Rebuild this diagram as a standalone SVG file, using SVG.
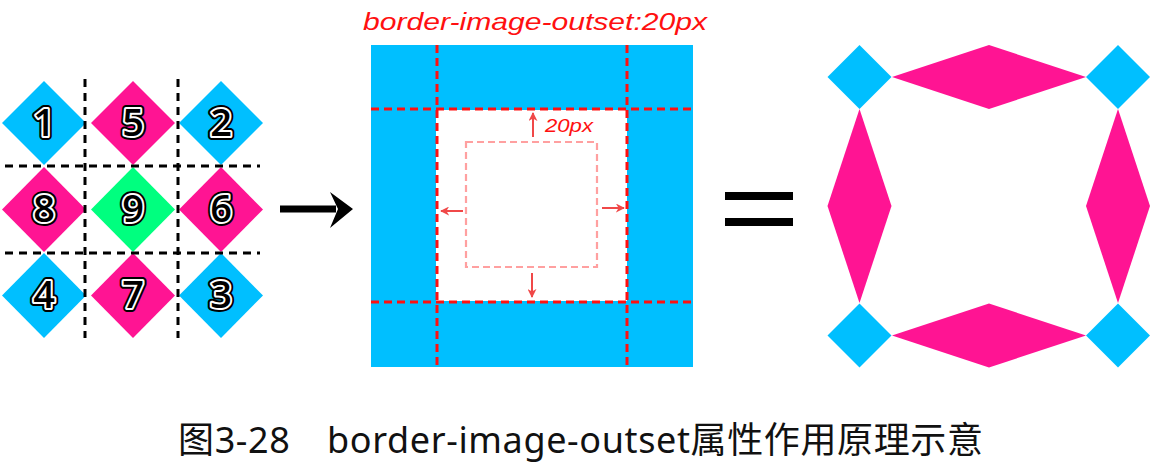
<svg xmlns="http://www.w3.org/2000/svg" width="1157" height="465" viewBox="0 0 1157 465">
<style>
.blue{fill:#00BFFF}
.pink{fill:#FF1493}
.green{fill:#00FF7F}
.gridline{stroke:#000;stroke-width:3;stroke-dasharray:8 6;fill:none}
.numo{font-family:"Open Sans","Noto Sans",sans-serif;font-size:38px;font-weight:600;text-anchor:middle;fill:#000;stroke:#000;stroke-width:8;stroke-linejoin:round}
.numi{font-family:"Open Sans","Noto Sans",sans-serif;font-size:38px;font-weight:600;text-anchor:middle;fill:#000;stroke:#fff;stroke-width:4;stroke-linejoin:round;paint-order:stroke}
.reddash{stroke:#FF1010;stroke-width:3;stroke-dasharray:8 5;fill:none}
.pinkdash{stroke:#FFA0A0;stroke-width:2.2;stroke-dasharray:7 4;fill:none}
.redtxt{font-family:"Liberation Sans","DejaVu Sans",sans-serif;font-style:italic;fill:#FF1010}
.sarrow{stroke:#F04848;stroke-width:2;fill:none;marker-end:url(#ah)}
.cap{font-family:"Noto Sans","Noto Sans CJK SC",sans-serif;font-size:36px;fill:#111}
</style>
<defs>
<marker id="ah" viewBox="0 0 10 10" refX="9" refY="5" markerWidth="9" markerHeight="9" markerUnits="userSpaceOnUse" orient="auto">
<path d="M0,0 L10,5 L0,10 L3,5 z" fill="#F04848"/>
</marker>
</defs>
<rect width="1157" height="465" fill="#fff"/>

<g id="sprite-grid">
<g id="d1"><polygon class="blue" points="44,81 86,123 44,165 2,123"/><text class="numo" x="44" y="136">1</text><text class="numi" x="44" y="136">1</text></g>
<g id="d5"><polygon class="pink" points="133,81 175,123 133,165 91,123"/><text class="numo" x="133" y="136">5</text><text class="numi" x="133" y="136">5</text></g>
<g id="d2"><polygon class="blue" points="221,81 263,123 221,165 179,123"/><text class="numo" x="221" y="136">2</text><text class="numi" x="221" y="136">2</text></g>
<g id="d8"><polygon class="pink" points="44,167 86,209.5 44,252 2,209.5"/><text class="numo" x="44" y="222">8</text><text class="numi" x="44" y="222">8</text></g>
<g id="d9"><polygon class="green" points="133,167 175,209.5 133,252 91,209.5"/><text class="numo" x="133" y="222">9</text><text class="numi" x="133" y="222">9</text></g>
<g id="d6"><polygon class="pink" points="221,167 263,209.5 221,252 179,209.5"/><text class="numo" x="221" y="222">6</text><text class="numi" x="221" y="222">6</text></g>
<g id="d4"><polygon class="blue" points="44,253 86,295.5 44,338 2,295.5"/><text class="numo" x="44" y="308">4</text><text class="numi" x="44" y="308">4</text></g>
<g id="d7"><polygon class="pink" points="133,253 175,295.5 133,338 91,295.5"/><text class="numo" x="133" y="308">7</text><text class="numi" x="133" y="308">7</text></g>
<g id="d3"><polygon class="blue" points="221,253 263,295.5 221,338 179,295.5"/><text class="numo" x="221" y="308">3</text><text class="numi" x="221" y="308">3</text></g>
<g id="grid-lines">
<line class="gridline" x1="85" y1="79" x2="85" y2="338"/>
<line class="gridline" x1="178" y1="79" x2="178" y2="338"/>
<line class="gridline" x1="5" y1="166" x2="260" y2="166"/>
<line class="gridline" x1="5" y1="253" x2="260" y2="253"/>
</g>
</g>

<g id="connectors">
<line x1="280" y1="209" x2="336" y2="209" stroke="#000" stroke-width="7"/>
<polygon points="330,192 353,209 330,228 338,209" fill="#000"/>
</g>

<g id="outset-box">
<text class="redtxt" x="363" y="30" font-size="24" textLength="344" lengthAdjust="spacingAndGlyphs">border-image-outset:20px</text>
<rect x="371" y="45" width="322" height="322" class="blue"/>
<rect x="436" y="110" width="191" height="191" fill="#fff"/>
<line class="reddash" x1="437" y1="45" x2="437" y2="367"/>
<line class="reddash" x1="627" y1="45" x2="627" y2="367"/>
<line class="reddash" x1="371" y1="109" x2="693" y2="109"/>
<line class="reddash" x1="371" y1="302" x2="693" y2="302"/>
<rect class="pinkdash" x="466" y="142" width="131" height="125"/>
<line class="sarrow" x1="533" y1="137" x2="533" y2="113"/>
<line class="sarrow" x1="463" y1="211" x2="441" y2="211"/>
<line class="sarrow" x1="602" y1="208" x2="624" y2="208"/>
<line class="sarrow" x1="532" y1="273" x2="532" y2="297"/>
<text class="redtxt" x="545" y="132" font-size="18" textLength="48" lengthAdjust="spacingAndGlyphs">20px</text>
</g>

<g id="equals">
<rect x="725" y="192" width="68" height="8" fill="#000"/>
<rect x="725" y="218" width="68" height="8" fill="#000"/>
</g>

<g id="result">
<polygon class="blue" points="859.5,45 891.5,77 859.5,109 827.5,77"/>
<polygon class="blue" points="1118,45 1150,77 1118,109 1086,77"/>
<polygon class="blue" points="859.5,303.5 891.5,335.5 859.5,367.5 827.5,335.5"/>
<polygon class="blue" points="1118,303.5 1150,335.5 1118,367.5 1086,335.5"/>
<polygon class="pink" points="892,77 989,45 1086,77 989,109"/>
<polygon class="pink" points="892,335.5 989,303.5 1086,335.5 989,367.5"/>
<polygon class="pink" points="859.5,109 891.5,206 859.5,303 827.5,206"/>
<polygon class="pink" points="1118,109 1150,206 1118,303 1086,206"/>
</g>

<text class="cap" x="178" y="453" textLength="805" lengthAdjust="spacing">图3-28　border-image-outset属性作用原理示意</text>
</svg>
